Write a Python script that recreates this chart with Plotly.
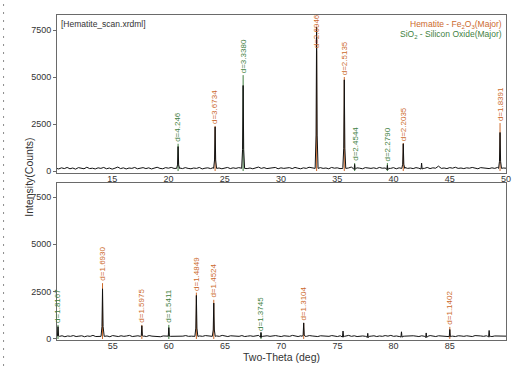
import plotly.graph_objects as go

# ---------------- data ----------------
# baseline (background noise) counts, 10.00 .. 90.00 deg, step 0.25 deg
base_start = 10.0
base_step = 0.25
baseline_counts = [
    150,110,170,130,190,120,160,100,180,140,120,200,130,150,110,170,
    140,190,120,160,100,150,210,130,170,110,160,140,190,120,150,180,
    130,170,110,150,200,140,120,180,150,190,140,170,160,130,180,140,
    120,160,140,190,110,150,170,130,180,140,160,120,150,190,130,170,
    140,180,150,200,130,160,120,170,210,140,180,130,160,150,190,120,
    170,140,160,180,130,190,150,120,170,140,200,160,130,150,180,140,
    160,120,190,150,170,130,180,140,160,210,130,170,150,120,180,160,
    140,170,130,190,150,160,200,140,180,120,170,150,190,140,160,130,
    180,150,160,140,190,130,170,150,260,140,160,130,180,150,200,140,
    160,130,170,150,190,140,120,180,150,160,130,170,140,190,150,160,
    150,130,170,120,160,140,180,130,150,170,120,160,140,190,130,150,
    170,140,160,120,180,150,130,170,140,160,190,130,150,170,140,160,
    130,180,150,140,170,120,160,150,190,140,170,130,160,150,180,140,
    150,170,130,160,140,180,150,130,170,160,140,190,150,130,170,150,
    160,140,180,130,150,170,140,160,190,130,150,170,140,160,180,150,
    130,170,150,140,190,160,130,170,150,140,180,160,150,130,170,150,
    160,140,180,150,130,170,160,150,190,140,170,130,150,160,140,180,
    150,170,130,160,140,180,150,190,140,160,130,170,150,160,140,170,
    150,130,170,160,140,180,150,130,170,150,160,140,190,150,130,170,
    160,140,170,150,130,180,150,160,140,170,150,130,160,150,170,140,
    150,
]

# observed peaks (2-theta, counts)
peak_pos = [20.86, 24.15, 26.64, 33.17, 35.63, 36.55, 39.46, 40.87, 42.5, 49.47,
            50.14, 54.10, 57.60, 60.00, 62.45, 64.00, 68.20, 72.00, 75.50, 77.70,
            80.70, 82.90, 85.00, 88.50]
peak_counts = [1300, 2350, 4550, 7650, 4850, 350, 300, 1450, 420, 2050,
               650, 2650, 700, 600, 2300, 1900, 350, 850, 420, 300,
               380, 320, 500, 450]

# reference sticks: position, d-spacing label, phase, label-bottom counts
stick_pos = [20.86, 24.15, 26.64, 33.17, 35.63, 36.55, 39.46, 40.87, 49.47,
             50.14, 54.10, 57.60, 60.00, 62.45, 64.00, 68.20, 72.00, 85.00]
stick_label = ["d=4.246", "d=3.6734", "d=3.3380", "d=2.6946", "d=2.5135",
               "d=2.4544", "d=2.2790", "d=2.2035", "d=1.8391",
               "d=1.8167", "d=1.6930", "d=1.5975", "d=1.5411", "d=1.4849",
               "d=1.4524", "d=1.3745", "d=1.3104", "d=1.1402"]
stick_phase = ["Q", "H", "Q", "H", "H", "Q", "Q", "H", "H",
               "Q", "H", "H", "Q", "H", "H", "Q", "H", "H"]
stick_top = [1450, 2400, 5100, 6400, 5000, 420, 420, 1490, 2550,
             745, 2950, 745, 745, 2450, 2070, 320, 850, 640]

x_ticks_top = [15, 20, 25, 30, 35, 40, 45, 50]
x_ticks_bot = [55, 60, 65, 70, 75, 80, 85]
y_ticks = [0, 2500, 5000, 7500]

# ---------------- build ----------------
H_COL = "#cc6a2c"
Q_COL = "#3f7f3f"
AX_COL = "#6a6a6a"
TXT = "#333333"
FONT = "Liberation Sans, Arial, sans-serif"

half_w = 0.13
pts = []
for i, c in enumerate(baseline_counts):
    x = base_start + base_step * i
    if all(abs(x - p) > half_w for p in peak_pos):
        pts.append((x, c))
for p, h in zip(peak_pos, peak_counts):
    pts.append((p - half_w, 140))
    pts.append((p - 0.05, h * 0.25))
    pts.append((p, h))
    pts.append((p + 0.05, h * 0.25))
    pts.append((p + half_w, 140))
pts.sort()

def split(lo, hi):
    xs = [x for x, y in pts if lo <= x <= hi]
    ys = [y for x, y in pts if lo <= x <= hi]
    return xs, ys

fig = go.Figure()

# sticks first (under data)
for panel, (lo, hi, xa, ya) in enumerate([(10, 50.05, "x", "y"), (50.05, 90, "x2", "y2")]):
    for ph, col in (("H", H_COL), ("Q", Q_COL)):
        sx, sy = [], []
        for p, t, f in zip(stick_pos, stick_top, stick_phase):
            if f == ph and lo <= p < hi:
                sx += [p, p, None]
                sy += [0, t, None]
        fig.add_trace(go.Scatter(x=sx, y=sy, mode="lines", line=dict(color=col, width=1),
                                 xaxis=xa, yaxis=ya, hoverinfo="skip", showlegend=False))

tx, ty = split(10, 50.0)
bx, by = split(50.0, 90)
fig.add_trace(go.Scatter(x=tx, y=ty, mode="lines", line=dict(color="#111111", width=1),
                         xaxis="x", yaxis="y", showlegend=False))
fig.add_trace(go.Scatter(x=bx, y=by, mode="lines", line=dict(color="#111111", width=1),
                         xaxis="x2", yaxis="y2", showlegend=False))

# stick labels
ann = []
for p, lab, f, t in zip(stick_pos, stick_label, stick_phase, stick_top):
    top_panel = p < 50.05
    ann.append(dict(x=p, y=t, xref="x" if top_panel else "x2", yref="y" if top_panel else "y2",
                    text=lab, textangle=-90, showarrow=False, xanchor="center", yanchor="bottom",
                    font=dict(size=8, color=H_COL if f == "H" else Q_COL, family=FONT)))

ann.append(dict(x=0.005, y=0.995, xref="paper", yref="paper", text="[Hematite_scan.xrdml]",
                showarrow=False, xanchor="left", yanchor="top",
                font=dict(size=8.5, color=TXT, family=FONT)))
ann.append(dict(x=0.995, y=0.993, xref="paper", yref="paper",
                text="Hematite - Fe<sub>2</sub>O<sub>3</sub>(Major)",
                showarrow=False, xanchor="right", yanchor="top",
                font=dict(size=8.5, color=H_COL, family=FONT)))
ann.append(dict(x=0.995, y=0.962, xref="paper", yref="paper",
                text="SiO<sub>2</sub> - Silicon Oxide(Major)",
                showarrow=False, xanchor="right", yanchor="top",
                font=dict(size=8.5, color=Q_COL, family=FONT)))
ann.append(dict(x=-0.064, y=0.5, xref="paper", yref="paper", text="Intensity(Counts)",
                textangle=-90, showarrow=False, xanchor="center", yanchor="middle",
                font=dict(size=10.5, color=TXT, family=FONT)))
ann.append(dict(x=0.5, y=-0.053, xref="paper", yref="paper", text="Two-Theta (deg)",
                showarrow=False, xanchor="center", yanchor="middle",
                font=dict(size=10.5, color=TXT, family=FONT)))

axis_common = dict(showline=True, linecolor=AX_COL, linewidth=1, mirror=True,
                   showgrid=False, zeroline=False,
                   tickfont=dict(size=9, color=TXT, family=FONT))

fig.update_layout(
    width=521, height=367,
    margin=dict(l=57, r=10, t=15, b=27),
    paper_bgcolor="white", plot_bgcolor="white",
    xaxis=dict(domain=[0, 1], range=[10.1, 50.0], anchor="y", tickvals=x_ticks_top,
               ticks="", ticklen=0, ticklabelstandoff=-3, **axis_common),
    yaxis=dict(domain=[0.5138, 1], range=[-106, 8298], anchor="x", tickvals=y_ticks,
               ticks="outside", ticklen=3, tickcolor=AX_COL, **axis_common),
    xaxis2=dict(domain=[0, 1], range=[50.05, 90.0], anchor="y2", tickvals=x_ticks_bot,
                ticks="", ticklen=0, ticklabelstandoff=-3, **axis_common),
    yaxis2=dict(domain=[0, 0.4831], range=[-53, 8240], anchor="x2", tickvals=y_ticks,
                ticks="outside", ticklen=3, tickcolor=AX_COL, **axis_common),
    annotations=ann,
    shapes=[dict(type="line", xref="paper", yref="paper", x0=-0.119, x1=-0.119, y0=-0.08, y1=1.04,
                 line=dict(color="#8a8a8a", width=1, dash="2px,6px"))],
)

fig.write_html("out.html")
